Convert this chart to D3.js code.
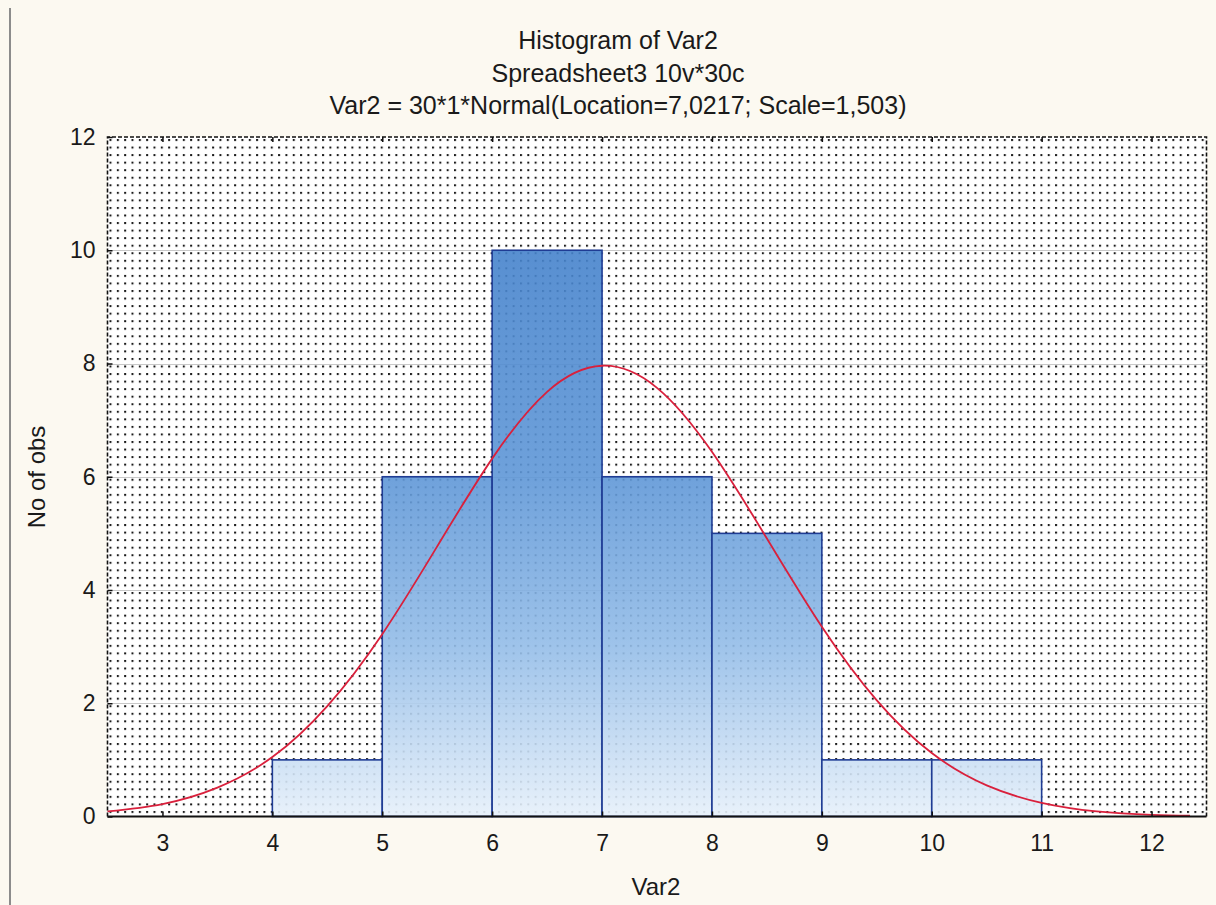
<!DOCTYPE html>
<html><head><meta charset="utf-8">
<script src="https://cdn.jsdelivr.net/npm/d3@7"></script>
<style>
html,body{margin:0;padding:0;background:#fcf9f1;}
svg{display:block;}
text{font-family:"Liberation Sans",Arial,sans-serif;fill:#1a1a1a;}
</style></head>
<body>
<script>
// ---- data ----
const binStarts = [4, 5, 6, 7, 8, 9, 10];
const binEnds   = [5, 6, 7, 8, 9, 10, 11];
const counts    = [1, 6, 10, 6, 5, 1, 1];
const curveX = [2.5, 3, 3.5, 4, 4.5, 5, 5.5, 6, 6.5, 7, 7.5, 8, 8.5, 9, 9.5, 10, 10.5, 11, 11.5, 12, 12.35];
const curveY = [0.09, 0.22, 0.51, 1.05, 1.95, 3.22, 4.77, 6.32, 7.5, 7.96, 7.57, 6.44, 4.91, 3.35, 2.05, 1.12, 0.55, 0.24, 0.09, 0.03, 0.015];
const xTicks = [3, 4, 5, 6, 7, 8, 9, 10, 11, 12];
const yTicks = [0, 2, 4, 6, 8, 10, 12];
const titles = ["Histogram of Var2", "Spreadsheet3 10v*30c", "Var2 = 30*1*Normal(Location=7,0217; Scale=1,503)"];
const xLabel = "Var2";
const yLabel = "No of obs";

// ---- layout ----
const W = 1216, H = 905;
const L = 107.5, R = 1206.5, T = 137, B = 816.5;

const svg = d3.select("body").append("svg").attr("width", W).attr("height", H);
const x = d3.scaleLinear().domain([2.5, 12.5]).range([L, R]);
const y = d3.scaleLinear().domain([0, 12]).range([B, T]);

const defs = svg.append("defs");
const pat = defs.append("pattern").attr("id", "dots").attr("patternUnits", "userSpaceOnUse")
  .attr("x", L + 2).attr("y", T + 2).attr("width", 7.33).attr("height", 7.55);
pat.append("rect").attr("width", 2).attr("height", 2).attr("fill", "#1a1a1a");

const grad = defs.append("linearGradient").attr("id", "barGrad").attr("gradientUnits", "userSpaceOnUse")
  .attr("x1", 0).attr("x2", 0).attr("y1", y(10)).attr("y2", y(0));
grad.append("stop").attr("offset", 0).attr("stop-color", "#4683cc");
grad.append("stop").attr("offset", 0.4).attr("stop-color", "#5f97d7");
grad.append("stop").attr("offset", 0.7).attr("stop-color", "#94bde8");
grad.append("stop").attr("offset", 1).attr("stop-color", "#e6f0fa");

// left gray frame line
svg.append("line").attr("x1", 10).attr("x2", 10).attr("y1", 8).attr("y2", H)
  .attr("stroke", "#8c8c8c").attr("stroke-width", 2);

// plot background
svg.append("rect").attr("x", L).attr("y", T).attr("width", R - L).attr("height", B - T).attr("fill", "#ffffff");
svg.append("rect").attr("x", L).attr("y", T).attr("width", R - L).attr("height", B - T).attr("fill", "url(#dots)");

// horizontal gridlines
svg.append("g").selectAll("line").data(yTicks.filter(d => d > 0 && d < 12)).join("line")
  .attr("x1", L).attr("x2", R).attr("y1", d => Math.round(y(d)) + 0.5).attr("y2", d => Math.round(y(d)) + 0.5)
  .attr("stroke", "#c8c8c8").attr("stroke-width", 1);

// bars
svg.append("g").selectAll("rect").data(counts).join("rect")
  .attr("x", (d, i) => x(binStarts[i]))
  .attr("width", (d, i) => x(binEnds[i]) - x(binStarts[i]))
  .attr("y", d => y(d))
  .attr("height", d => y(0) - y(d))
  .attr("fill", "url(#barGrad)").attr("fill-opacity", 0.9)
  .attr("stroke", "#1f3c94").attr("stroke-width", 1.6);

// normal curve
const line = d3.line().x((d, i) => x(curveX[i])).y(d => y(d)).curve(d3.curveNatural);
svg.append("path").datum(curveY).attr("d", line)
  .attr("fill", "none").attr("stroke", "#d9203c").attr("stroke-width", 1.8);

// frame: dashed top/left/right, solid bottom
const frame = svg.append("g").attr("fill", "none").attr("stroke", "#111");
frame.append("path").attr("d", `M${L},${B}V${T}H${R}V${B}`)
  .attr("stroke-width", 1.6).attr("stroke-dasharray", "4,2");
frame.append("line").attr("x1", L).attr("x2", R).attr("y1", B).attr("y2", B).attr("stroke-width", 2);

// axes via d3
const xAxisB = d3.axisBottom(x).tickValues(xTicks).tickSize(0).tickPadding(18).tickFormat(d3.format("d"));
const gx = svg.append("g").attr("transform", `translate(0,${B})`).call(xAxisB);
gx.select(".domain").remove();
gx.selectAll("text").attr("font-size", 23).attr("fill", "#1a1a1a");

const xAxisT = d3.axisBottom(x).tickValues(xTicks).tickSize(5).tickFormat("");
const gxt = svg.append("g").attr("transform", `translate(0,${T})`).call(xAxisT);
gxt.select(".domain").remove();
gxt.selectAll("line").attr("stroke", "#111").attr("stroke-width", 1.5);

const xAxisBT = d3.axisTop(x).tickValues(xTicks).tickSize(5).tickFormat("");
const gxb = svg.append("g").attr("transform", `translate(0,${B})`).call(xAxisBT);
gxb.select(".domain").remove();
gxb.selectAll("line").attr("stroke", "#111").attr("stroke-width", 1.5);

const yAxis = d3.axisLeft(y).tickValues(yTicks).tickSize(0).tickPadding(12).tickFormat(d3.format("d"));
const gy = svg.append("g").attr("transform", `translate(${L},0)`).call(yAxis);
gy.select(".domain").remove();
gy.selectAll("text").attr("font-size", 23).attr("fill", "#1a1a1a");

const yTickIn = d3.axisRight(y).tickValues(yTicks).tickSize(5).tickFormat("");
const gyi = svg.append("g").attr("transform", `translate(${L},0)`).call(yTickIn);
gyi.select(".domain").remove();
gyi.selectAll("line").attr("stroke", "#111").attr("stroke-width", 1.5);

// titles
svg.append("g").selectAll("text").data(titles).join("text")
  .attr("x", 618).attr("y", (d, i) => 49 + i * 32.5)
  .attr("text-anchor", "middle").attr("font-size", 25).text(d => d);

svg.append("text").attr("x", (L + R) / 2 - 1).attr("y", 895).attr("text-anchor", "middle")
  .attr("font-size", 24).text(xLabel);
svg.append("text").attr("transform", `translate(45,477) rotate(-90)`).attr("text-anchor", "middle")
  .attr("font-size", 24).text(yLabel);
</script>
</body></html>
